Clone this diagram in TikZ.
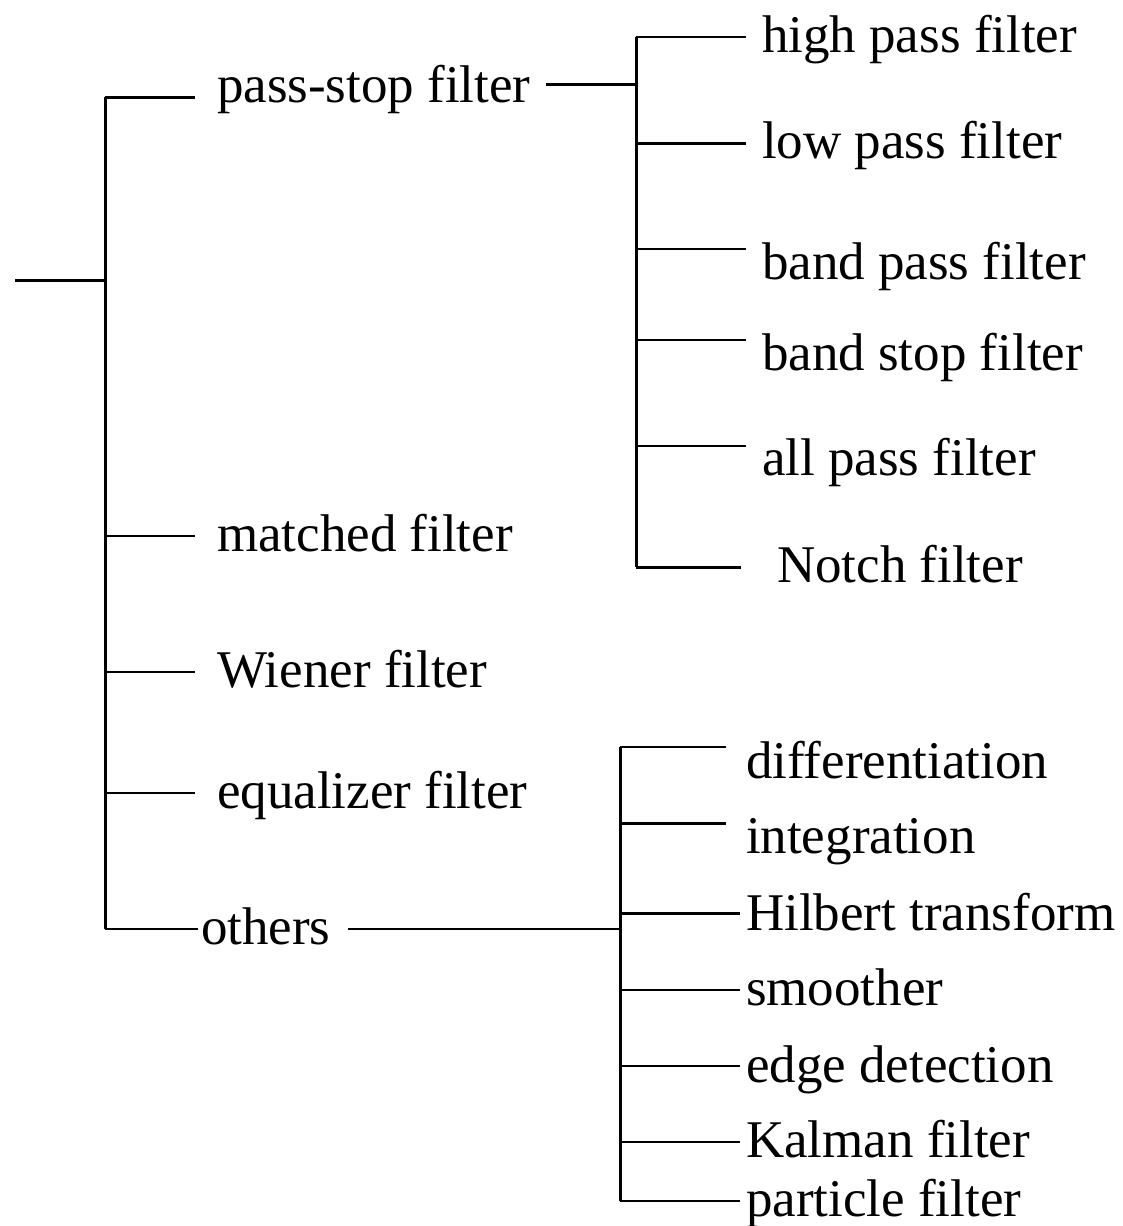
\documentclass[tikz,border=0pt]{standalone}
\usepackage{fontspec}
\setmainfont{Liberation Serif}
\begin{document}
\begin{tikzpicture}[x=1pt,y=-1pt,
  lbl/.style={anchor=base west,inner sep=0pt,outer sep=0pt,font=\fontsize{53}{60}\selectfont},
  ln/.style={line width=3pt},
  thin/.style={line width=2.4pt}]
\useasboundingbox (0,0) rectangle (1122,1226);
% root
\coordinate (r0) at (15,280);
\coordinate (r1) at (105,280);
\coordinate (t0) at (105,97);
\coordinate (t1) at (105,929);
\draw[ln] (r0) -- (r1);
\draw[ln] (t0) -- (t1);
% level 1
\node[lbl] (ps) at (217,102) {pass-stop filter};
\node[lbl] (mf) at (217,551) {matched filter};
\node[lbl] (wf) at (217,687) {Wiener filter};
\node[lbl] (ef) at (217,808) {equalizer filter};
\node[lbl] (ot) at (201,944) {others};
\coordinate (b1) at (195,97);
\coordinate (b2) at (195,536);
\coordinate (b3) at (195,672);
\coordinate (b4) at (195,793);
\coordinate (b5) at (198,929);
\draw[ln] (t0) -- (b1);
\draw[thin] (105,536) -- (b2);
\draw[thin] (105,672) -- (b3);
\draw[thin] (105,793) -- (b4);
\draw[thin] (t1) -- (b5);
% pass-stop subtree
\coordinate (s0) at (636,37);
\coordinate (s1) at (636,567);
\coordinate (ps1) at (546,84);
\coordinate (ps2) at (636,84);
\draw[ln] (ps1) -- (ps2);
\draw[ln] (s0) -- (s1);
\node[lbl] (hp) at (762,52) {high pass filter};
\node[lbl] (lp) at (762,158) {low pass filter};
\node[lbl] (bp) at (762,279) {band pass filter};
\node[lbl] (bs) at (762,370) {band stop filter};
\node[lbl] (ap) at (762,475) {all pass filter};
\node[lbl] (nf) at (777,582) {Notch filter};
\coordinate (e1) at (746,37);
\coordinate (e2) at (746,143);
\coordinate (e3) at (746,249);
\coordinate (e4) at (746,340);
\coordinate (e5) at (746,446);
\coordinate (e6) at (741,567);
\draw[thin] (s0) -- (e1);
\draw[ln] (636,143) -- (e2);
\draw[thin] (636,249) -- (e3);
\draw[thin] (636,340) -- (e4);
\draw[thin] (636,446) -- (e5);
\draw[ln] (s1) -- (e6);
% others subtree
\coordinate (o1) at (348,929);
\coordinate (o2) at (620,929);
\coordinate (u0) at (620,747);
\coordinate (u1) at (620,1201);
\draw[thin] (o1) -- (o2);
\draw[ln] (u0) -- (u1);
\node[lbl] (df) at (746,778) {differentiation};
\node[lbl] (ig) at (746,853) {integration};
\node[lbl] (ht) at (746,930) {Hilbert transform};
\node[lbl] (sm) at (746,1005) {smoother};
\node[lbl] (ed) at (746,1082) {edge detection};
\node[lbl] (kf) at (746,1157) {Kalman filter};
\node[lbl] (pf) at (746,1216) {particle filter};
\coordinate (f1) at (726,747);
\coordinate (f2) at (726,823);
\coordinate (f3) at (740,913);
\coordinate (f4) at (740,990);
\coordinate (f5) at (740,1066);
\coordinate (f6) at (740,1142);
\coordinate (f7) at (740,1201);
\draw[thin] (u0) -- (f1);
\draw[ln] (620,823) -- (f2);
\draw[ln] (620,913) -- (f3);
\draw[thin] (620,990) -- (f4);
\draw[thin] (620,1066) -- (f5);
\draw[thin] (620,1142) -- (f6);
\draw[thin] (u1) -- (f7);
\end{tikzpicture}
\end{document}
